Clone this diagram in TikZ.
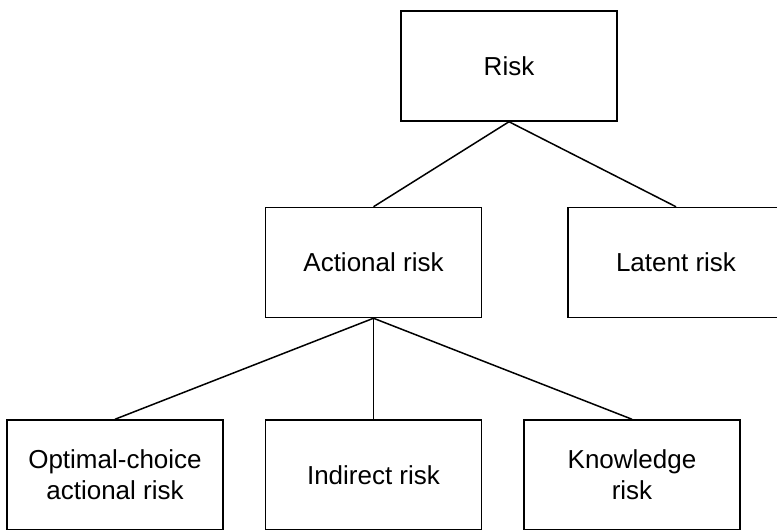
\documentclass[tikz,border=0pt]{standalone}
\usepackage{fontspec}
\setmainfont{Liberation Sans}
\usetikzlibrary{positioning}

\begin{document}
\begin{tikzpicture}[
    x=1pt, y=1pt,
    font=\fontsize{26}{31}\selectfont,
    box/.style={draw, line width=1.5pt, align=center, minimum width=216pt, minimum height=110pt, inner sep=0pt},
    line/.style={line width=1.5pt}
]
\useasboundingbox (0,0) rectangle (777,-530);
\node[box] (risk) at (509,-66) {Risk};
\node[box] (actional) at (373.5,-262.5) {Actional risk};
\node[box, right=85pt of actional] (latent) {Latent risk};
\node[box, below=101pt of actional] (indirect) {Indirect risk};
\node[box, left=41pt of indirect] (optimal) {Optimal-choice\\actional risk};
\node[box, right=41pt of indirect] (knowledge) {Knowledge\\risk};

\draw[line] (risk.south) -- (actional.north);
\draw[line] (risk.south) -- (latent.north);
\draw[line] (actional.south) -- (optimal.north);
\draw[line] (actional.south) -- (indirect.north);
\draw[line] (actional.south) -- (knowledge.north);
\end{tikzpicture}
\end{document}
